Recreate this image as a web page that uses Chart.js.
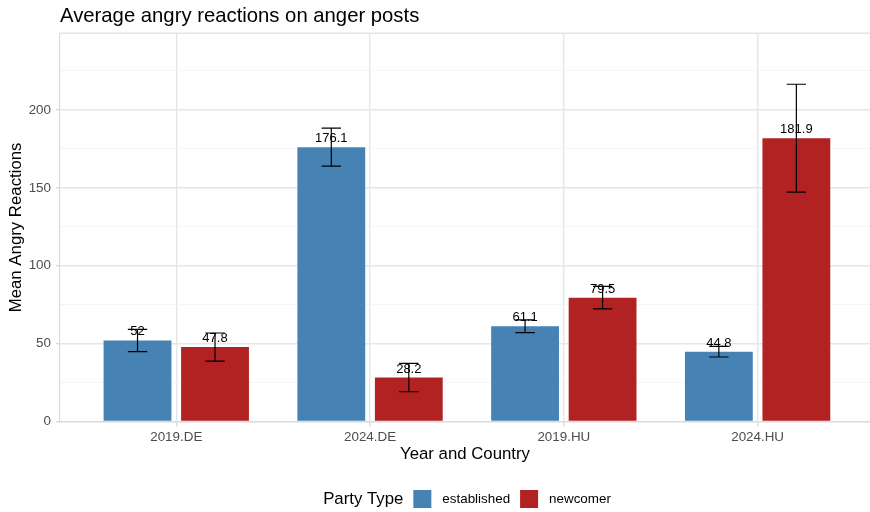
<!DOCTYPE html>
<html>
<head>
<meta charset="utf-8">
<script src="https://cdn.jsdelivr.net/npm/chart.js@4"></script>
<style>
  html, body { margin: 0; padding: 0; background: #ffffff; }
  #wrap { width: 870px; height: 512px; }
</style>
</head>
<body>
<div id="wrap"><canvas id="c" width="870" height="512"></canvas></div>
<script>
// Year/country groups along the x axis
const categories = ['2019.DE', '2024.DE', '2019.HU', '2024.HU'];
// Party types (legend entries)
const partyTypes = ['established', 'newcomer'];
// Mean angry reactions per group
const establishedMean = [52, 176.1, 61.1, 44.8];
const newcomerMean = [47.8, 28.2, 79.5, 181.9];
// Half-width of the error bars
const establishedErr = [7.2, 12.2, 4.1, 3.4];
const newcomerErr = [9.0, 9.1, 7.2, 34.6];
// Y axis: gridline positions (labelled every 50) and upper limit
const yTickValues = [0, 25, 50, 75, 100, 125, 150, 175, 200, 225];
const yMax = 249.2;

const partyColors = ['#4682B4', '#B22222'];
const FONT = '"Liberation Sans", Arial, Helvetica, sans-serif';
const GRID = '#e6e6e6';
const GRID_MINOR = '#f2f2f2';

function isMajor(v) { return v % 50 === 0; }

const decor = {
  id: 'decor',
  beforeDatasetsDraw(chart) {
    const { ctx, chartArea } = chart;
    ctx.save();
    ctx.strokeStyle = GRID;
    ctx.lineWidth = 1.4;
    ctx.beginPath();
    ctx.moveTo(chartArea.left, chartArea.top);
    ctx.lineTo(chartArea.right, chartArea.top);
    ctx.stroke();
    ctx.restore();
  },
  afterDatasetsDraw(chart) {
    const { ctx, scales: { x, y } } = chart;
    const capHalf = x.getPixelForValue(1.05) - x.getPixelForValue(1);
    chart.data.datasets.forEach((ds, di) => {
      const meta = chart.getDatasetMeta(di);
      meta.data.forEach((bar, i) => {
        const v = ds.data[i].y;
        const e = ds.err[i];
        ctx.save();
        // value label above the bar
        ctx.fillStyle = '#000000';
        ctx.font = '13px ' + FONT;
        ctx.textAlign = 'center';
        ctx.textBaseline = 'alphabetic';
        ctx.fillText(String(v), bar.x, y.getPixelForValue(v) - 5);
        // error bar
        const top = y.getPixelForValue(v + e);
        const bot = y.getPixelForValue(v - e);
        ctx.strokeStyle = '#000000';
        ctx.lineWidth = 1.2;
        ctx.beginPath();
        ctx.moveTo(bar.x, top); ctx.lineTo(bar.x, bot);
        ctx.moveTo(bar.x - capHalf, top); ctx.lineTo(bar.x + capHalf, top);
        ctx.moveTo(bar.x - capHalf, bot); ctx.lineTo(bar.x + capHalf, bot);
        ctx.stroke();
        ctx.restore();
      });
    });
  },
  afterDraw(chart) {
    const { ctx, chartArea } = chart;
    ctx.save();
    // chart title
    ctx.fillStyle = '#000000';
    ctx.font = '20.3px ' + FONT;
    ctx.textAlign = 'left';
    ctx.textBaseline = 'alphabetic';
    ctx.fillText('Average angry reactions on anger posts', chartArea.left, 22);

    // axis titles
    const midX = (chartArea.left + chartArea.right) / 2;
    const midY = (chartArea.top + chartArea.bottom) / 2;
    ctx.font = '16.8px ' + FONT;
    ctx.textAlign = 'center';
    ctx.textBaseline = 'middle';
    ctx.fillText('Year and Country', midX, 454);
    ctx.save();
    ctx.translate(16, midY);
    ctx.rotate(-Math.PI / 2);
    ctx.fillText('Mean Angry Reactions', 0, 0);
    ctx.restore();

    // legend: title followed by the party swatches
    const legendY = 499;
    const box = 18;
    ctx.textAlign = 'left';
    ctx.textBaseline = 'middle';
    ctx.font = '16.8px ' + FONT;
    const titleW = ctx.measureText('Party Type').width;
    ctx.font = '13.4px ' + FONT;
    const labelW = chart.data.datasets.map(ds => ctx.measureText(ds.label).width);
    const total = titleW + 10 + labelW.reduce((s, w) => s + box + 11 + w, 0) + 10 * (labelW.length - 1);
    let lx = midX + 2 - total / 2;
    ctx.font = '16.8px ' + FONT;
    ctx.fillStyle = '#000000';
    ctx.fillText('Party Type', lx, legendY);
    lx += titleW + 10;
    chart.data.datasets.forEach((ds, i) => {
      ctx.fillStyle = ds.backgroundColor;
      ctx.fillRect(lx, legendY - box / 2, box, box);
      lx += box + 11;
      ctx.fillStyle = '#000000';
      ctx.font = '13.4px ' + FONT;
      ctx.fillText(ds.label, lx, legendY);
      lx += labelW[i] + 10;
    });
    ctx.restore();
  }
};

const ctx = document.getElementById('c').getContext('2d');
new Chart(ctx, {
  type: 'bar',
  data: {
    datasets: [
      {
        label: partyTypes[0],
        data: categories.map((c, i) => ({ x: i + 1, y: establishedMean[i] })),
        err: establishedErr,
        backgroundColor: partyColors[0]
      },
      {
        label: partyTypes[1],
        data: categories.map((c, i) => ({ x: i + 1, y: newcomerMean[i] })),
        err: newcomerErr,
        backgroundColor: partyColors[1]
      }
    ]
  },
  options: {
    responsive: false,
    animation: false,
    categoryPercentage: 0.8,
    barPercentage: 0.875,
    layout: { padding: { top: 33.3, right: 0, bottom: 0, left: 0 } },
    plugins: {
      legend: { display: false },
      title: { display: false },
      tooltip: { enabled: false }
    },
    scales: {
      x: {
        type: 'linear',
        min: 0.4,
        max: 4.58,
        offset: false,
        afterBuildTicks: s => { s.ticks = categories.map((c, i) => ({ value: i + 1 })); },
        afterFit: s => { s.height = 90.5; },
        ticks: {
          callback: v => categories[v - 1] ?? '',
          color: '#4d4d4d',
          font: { family: FONT, size: 13.4 },
          padding: 3,
          autoSkip: false,
          maxRotation: 0
        },
        grid: { offset: false, color: GRID, lineWidth: 1.4, tickLength: 5, tickColor: '#d9d9d9' },
        border: { display: true, color: '#dadada', width: 1.2 }
      },
      y: {
        min: 0,
        max: yMax,
        afterBuildTicks: s => { s.ticks = yTickValues.map(v => ({ value: v })); },
        afterFit: s => { s.width = 60; },
        ticks: {
          callback: v => (isMajor(v) ? String(v) : ''),
          color: '#4d4d4d',
          font: { family: FONT, size: 13.4 },
          padding: 5
        },
        grid: {
          color: c => (isMajor(c.tick.value) ? GRID : GRID_MINOR),
          lineWidth: c => (isMajor(c.tick.value) ? 1.4 : 0.8),
          tickColor: c => (isMajor(c.tick.value) ? '#d9d9d9' : 'rgba(0,0,0,0)'),
          tickLength: 4
        },
        border: { display: true, color: '#dadada', width: 1.2 }
      }
    }
  },
  plugins: [decor]
});
</script>
</body>
</html>
